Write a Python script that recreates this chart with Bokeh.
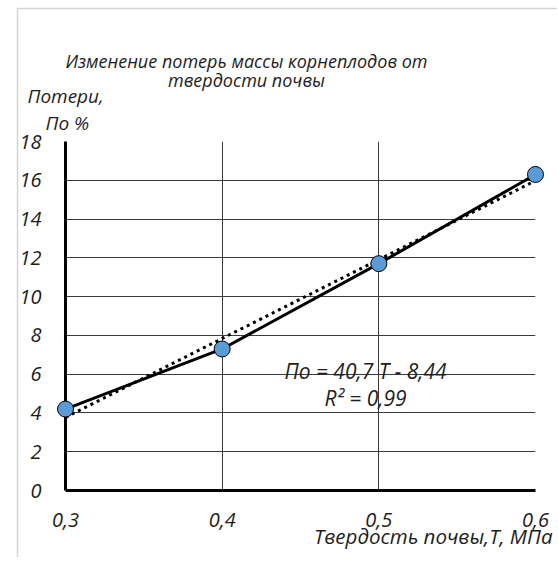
import numpy as np
from bokeh.plotting import figure
from bokeh.models import Range1d, FixedTicker, CustomJSTickFormatter
from bokeh.core.properties import value
from bokeh.embed import file_html
from bokeh.resources import INLINE

# ---- data ----
hardness = [0.3, 0.4, 0.5, 0.6]          # T, MPa
losses = [4.2, 7.3, 11.7, 16.3]           # По, %
x_ticks = [0.3, 0.4, 0.5, 0.6]
y_ticks = [0, 2, 4, 6, 8, 10, 12, 14, 16, 18]
title_lines = ["Изменение потерь массы корнеплодов от", "твердости почвы"]
y_title_lines = ["Потери,", "По %"]
x_title = "Твердость почвы,Т, МПа"
eq_text = "По = 40,7 Т - 8,44"
r2_text = "R² = 0,99"

FONT = "Open Sans"
TXT = "#1e1e1e"

p = figure(width=557, height=557, output_backend="svg", toolbar_location=None,
           x_range=Range1d(0.3, 0.6), y_range=Range1d(0, 18),
           min_border_left=65, min_border_right=22, min_border_top=141,
           min_border_bottom=67)
p.outline_line_color = None
p.background_fill_color = "white"
p.border_fill_color = "white"

# axes
p.xaxis.ticker = FixedTicker(ticks=x_ticks)
p.yaxis.ticker = FixedTicker(ticks=y_ticks)
p.xaxis.formatter = CustomJSTickFormatter(code="return tick.toFixed(1).replace('.', ',');")
for ax in (p.xaxis[0], p.yaxis[0]):
    ax.axis_line_width = 3
    ax.axis_line_color = "black"
    ax.major_tick_line_color = None
    ax.minor_tick_line_color = None
    ax.major_label_text_font = FONT
    ax.major_label_text_font_style = "italic"
    ax.major_label_text_font_size = "20px"
    ax.major_label_text_color = TXT
p.xaxis.major_label_standoff = 16
p.yaxis.major_label_standoff = 18

p.xgrid.grid_line_color = "#3a3a3a"
p.ygrid.grid_line_color = "#3a3a3a"
p.xgrid.grid_line_width = 1
p.ygrid.grid_line_width = 1

# helper: pixel (page) -> data for text/decoration placement
def dx(px):
    return 0.3 + (px - 66) * 0.3 / 470.0

def dy(py):
    return (490 - py) * 18 / 349.0

# light outer chart-area border (left and top), as an unfilled box
bx0, bx1, by0, by1 = dx(18), dx(700), dy(700), dy(8)
box = p.rect(x=[(bx0 + bx1) / 2], y=[(by0 + by1) / 2], width=[bx1 - bx0], height=[by1 - by0],
             fill_color=None, line_color="#d4d4d4", line_width=1.5)
box.level = "overlay"

# trend line (least squares)
k, b = np.polyfit(hardness, losses, 1)
tx = np.array([hardness[0], hardness[-1]])
p.line(tx, k * tx + b, line_color="black", line_width=3, line_dash="3 4")

# data line + markers
p.line(hardness, losses, line_color="black", line_width=3)
r = p.scatter(hardness, losses, size=16, fill_color="#5b9bd5", line_color="black", line_width=1)
r.level = "overlay"

def add_text(text, px, py, align="left", size="20px"):
    t = p.text(x=[dx(px)], y=[dy(py)], text=[text], text_align=align,
               text_baseline="middle", text_font=value(FONT),
               text_font_style="italic", text_font_size=size,
               text_color=TXT)
    t.level = "overlay"

add_text(title_lines[0], 247, 60, "center", "18px")
add_text(title_lines[1], 247, 79, "center", "18px")
add_text(y_title_lines[0], 28, 95, "left", "19px")
add_text(y_title_lines[1], 46, 122, "left", "19px")
add_text(x_title, 553, 535, "right", "20.5px")
add_text(eq_text, 366, 370, "center", "21px")
add_text(r2_text, 366, 397, "center", "21px")

open("out.html", "w").write(file_html(p, INLINE))
